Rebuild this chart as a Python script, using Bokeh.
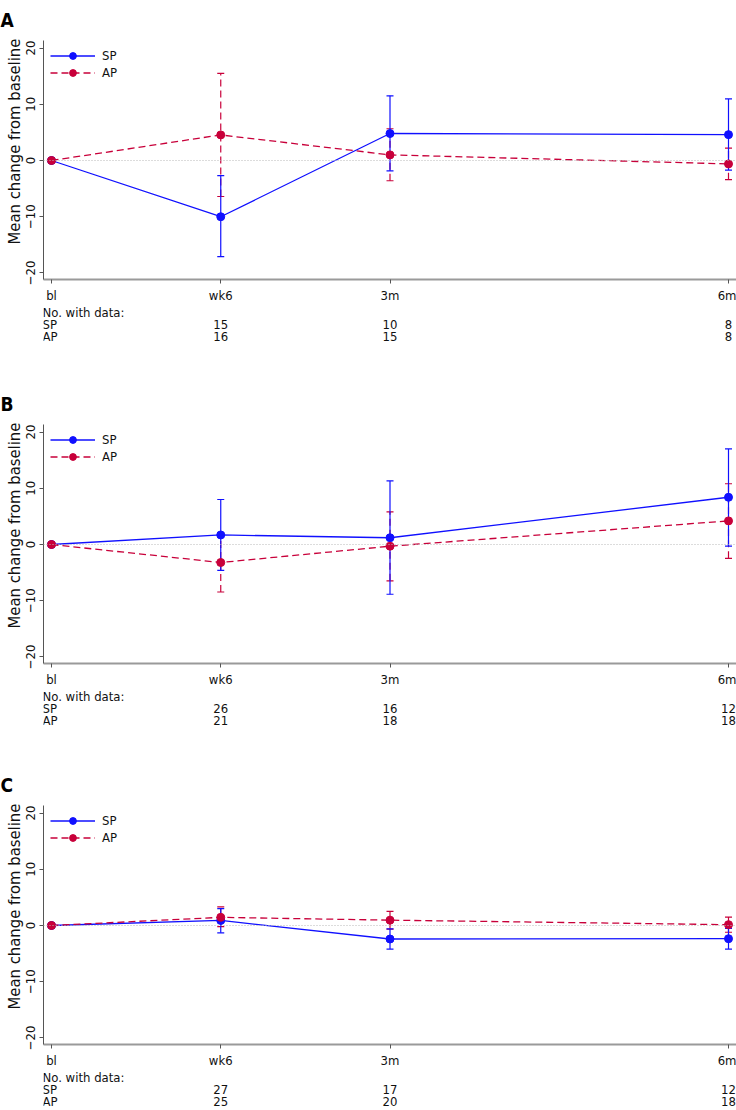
from bokeh.plotting import figure
from bokeh.models import (ColumnDataSource, Whisker, TeeHead, Span, Legend, LegendItem,
                          FixedTicker, Range1d, Title)
from bokeh.layouts import column
from bokeh.embed import file_html
from bokeh.resources import INLINE
from bokeh.core.properties import value

# ---------------- data ----------------
x_months = [0, 1.5, 3, 6]
tick_labels = ["bl", "wk6", "3m", "6m"]
panels = ["A", "B", "C"]
groups = ["SP", "AP"]
y_title = "Mean change from baseline"

# Panel A
a_sp_mean = [0, -10.0, 4.8, 4.6]
a_sp_lo = [-17.1, -1.85, -1.7]
a_sp_hi = [-2.7, 11.5, 10.95]
a_ap_mean = [0, 4.55, 1.0, -0.6]
a_ap_lo = [-6.4, -3.6, -3.4]
a_ap_hi = [15.5, 5.65, 2.2]
a_n_sp = [15, 10, 8]
a_n_ap = [16, 15, 8]

# Panel B
b_sp_mean = [0, 1.7, 1.2, 8.4]
b_sp_lo = [-4.6, -8.85, -0.3]
b_sp_hi = [8.0, 11.3, 17.0]
b_ap_mean = [0, -3.2, -0.3, 4.2]
b_ap_lo = [-8.45, -6.45, -2.45]
b_ap_hi = [2.05, 5.8, 10.8]
b_n_sp = [26, 16, 12]
b_n_ap = [21, 18, 18]

# Panel C
c_sp_mean = [0, 0.9, -2.4, -2.35]
c_sp_lo = [-1.3, -4.2, -4.2]
c_sp_hi = [3.0, -0.6, -0.5]
c_ap_mean = [0, 1.45, 0.95, 0.15]
c_ap_lo = [-0.2, -0.65, -1.2]
c_ap_hi = [3.3, 2.5, 1.5]
c_n_sp = [27, 17, 12]
c_n_ap = [25, 20, 18]

# ---------------- style ----------------
FONT = "'Liberation Sans Narrow', 'DejaVu Sans Condensed', 'Roboto Condensed', Roboto, sans-serif"
SP_COLOR = "#1010ff"
AP_COLOR = "#c8003a"
AP_DASH = "7 4"
W = 736
LEFT = 43
TOP = 39
FRAME_H = 245
BOTTOM = 21
PLOT_H = TOP + FRAME_H + BOTTOM
X_START, X_END = -0.0709, 6.0709


def make_panel(letter, sp_mean, sp_lo, sp_hi, ap_mean, ap_lo, ap_hi, n_sp, n_ap, table_h):
    xr = Range1d(X_START, X_END)
    p = figure(width=W, height=PLOT_H, x_range=xr, y_range=Range1d(-21.16, 21.34),
               output_backend="svg", toolbar_location=None,
               min_border_left=LEFT, min_border_right=0, min_border_top=TOP,
               min_border_bottom=BOTTOM)
    p.outline_line_color = None
    p.grid.visible = False
    p.background_fill_color = "white"
    p.border_fill_color = "white"

    p.title.text = letter
    p.title.text_font = FONT
    p.title.text_font_size = "19px"
    p.title.text_font_style = "bold"
    p.title.text_color = "#000000"
    p.title.align = "left"
    p.title.vertical_align = "top"
    p.title.offset = -LEFT
    p.title.standoff = 16

    # x axis
    xa = p.xaxis[0]
    xa.ticker = FixedTicker(ticks=x_months)
    xa.major_label_overrides = {float(k): v for k, v in zip(x_months, tick_labels)}
    xa.axis_line_color = "#9a9a9a"
    xa.axis_line_width = 2
    xa.major_tick_line_color = "#555555"
    xa.major_tick_out = 4
    xa.major_tick_in = 0
    xa.minor_tick_line_color = None
    xa.major_label_standoff = 4
    xa.major_label_text_font = FONT
    xa.major_label_text_font_size = "13px"
    xa.major_label_text_color = "#111111"

    # y axis
    ya = p.yaxis[0]
    ya.ticker = FixedTicker(ticks=[-20, -10, 0, 10, 20])
    ya.axis_line_color = "#555555"
    ya.major_tick_line_color = "#555555"
    ya.major_tick_out = 4
    ya.major_tick_in = 0
    ya.minor_tick_line_color = None
    ya.major_label_orientation = "vertical"
    ya.major_label_standoff = 4
    ya.major_label_text_font = FONT
    ya.major_label_text_font_size = "13px"
    ya.major_label_text_color = "#111111"

    # y-axis title, placed higher than centre as in the reference
    yt = Title(text=y_title, align="left", offset=35, standoff=0,
               text_font=FONT, text_font_size="16.5px", text_font_style="normal",
               text_color="#111111")
    p.add_layout(yt, "left")

    p.add_layout(Span(location=0, dimension="width", line_color="#b8b8b8",
                      line_dash="1 2", line_width=1))

    x_err = x_months[1:]
    # AP
    ap_src = ColumnDataSource(dict(x=x_err, lo=ap_lo, hi=ap_hi))
    p.add_layout(Whisker(source=ap_src, base="x", lower="lo", upper="hi",
                         line_color=AP_COLOR, line_dash=AP_DASH, line_width=1.2,
                         lower_head=TeeHead(size=7, line_color=AP_COLOR, line_width=1.2),
                         upper_head=TeeHead(size=7, line_color=AP_COLOR, line_width=1.2)))
    # SP
    sp_src = ColumnDataSource(dict(x=x_err, lo=sp_lo, hi=sp_hi))
    p.add_layout(Whisker(source=sp_src, base="x", lower="lo", upper="hi",
                         line_color=SP_COLOR, line_width=1.2,
                         lower_head=TeeHead(size=7, line_color=SP_COLOR, line_width=1.2),
                         upper_head=TeeHead(size=7, line_color=SP_COLOR, line_width=1.2)))

    sp_l = p.line(x_months, sp_mean, line_color=SP_COLOR, line_width=1.3)
    sp_s = p.scatter(x_months, sp_mean, size=8, fill_color=SP_COLOR, line_color=SP_COLOR)
    ap_l = p.line(x_months, ap_mean, line_color=AP_COLOR, line_width=1.3, line_dash=AP_DASH)
    ap_s = p.scatter(x_months, ap_mean, size=8, fill_color=AP_COLOR, line_color=AP_COLOR)

    leg = Legend(items=[LegendItem(label=groups[0], renderers=[sp_l, sp_s]),
                        LegendItem(label=groups[1], renderers=[ap_l, ap_s])],
                 location="top_left")
    leg.border_line_color = None
    leg.background_fill_alpha = 0
    leg.margin = 7
    leg.padding = 5
    leg.spacing = 0
    leg.glyph_width = 45
    leg.glyph_height = 17
    leg.label_height = 17
    leg.label_standoff = 7
    leg.label_text_font = FONT
    leg.label_text_font_size = "13px"
    leg.label_text_color = "#111111"
    p.add_layout(leg)

    # table of counts underneath, sharing the x scale
    row_px = 11.75
    first = 7
    t = figure(width=W, height=table_h, x_range=xr,
               y_range=Range1d((table_h - first) / row_px, -first / row_px),
               output_backend="svg", toolbar_location=None,
               min_border_left=LEFT, min_border_right=0, min_border_top=0,
               min_border_bottom=0)
    t.axis.visible = False
    t.grid.visible = False
    t.outline_line_color = None
    row_names = ["No. with data:", groups[0], groups[1]]
    t.text(x=[x_months[0]] * 3, y=[0, 1, 2], text=row_names,
           text_font=value(FONT), text_font_size="13px", text_align="left",
           text_baseline="middle", x_offset=-9, text_color="#111111")
    xs = x_err + x_err
    ys = [1] * len(x_err) + [2] * len(x_err)
    labels = [str(v) for v in n_sp] + [str(v) for v in n_ap]
    t.text(x=xs, y=ys, text=labels, text_font=value(FONT), text_font_size="13px",
           text_align="center", text_baseline="middle", text_color="#111111")
    return [p, t]


items = []
items += make_panel(panels[0], a_sp_mean, a_sp_lo, a_sp_hi, a_ap_mean, a_ap_lo, a_ap_hi,
                    a_n_sp, a_n_ap, 79)
items += make_panel(panels[1], b_sp_mean, b_sp_lo, b_sp_hi, b_ap_mean, b_ap_lo, b_ap_hi,
                    b_n_sp, b_n_ap, 76)
items += make_panel(panels[2], c_sp_mean, c_sp_lo, c_sp_hi, c_ap_mean, c_ap_lo, c_ap_hi,
                    c_n_sp, c_n_ap, 41)

layout = column(*items, spacing=0)
open("out.html", "w").write(file_html(layout, INLINE))
